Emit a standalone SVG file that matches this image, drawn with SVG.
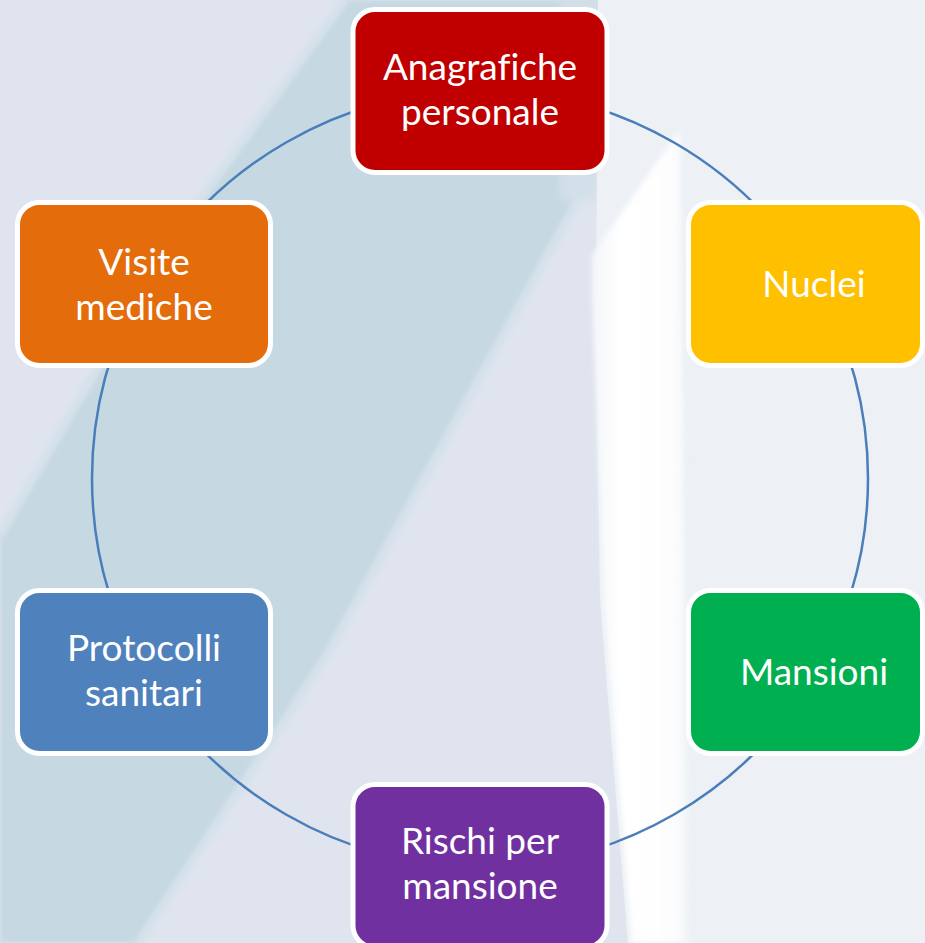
<svg xmlns="http://www.w3.org/2000/svg" width="925" height="943" viewBox="0 0 925 943">
<defs>
<style>
.box{stroke:#ffffff;stroke-width:5}
.lbl{font-family:Lato,"Open Sans","Liberation Sans",sans-serif;font-size:37px;fill:#ffffff;text-anchor:middle;font-variant-ligatures:none}
.arc{fill:none;stroke:#4a7ebb;stroke-width:2.5}
</style>
<filter id="blur8" x="-20%" y="-20%" width="140%" height="140%"><feGaussianBlur stdDeviation="4"/></filter>
<filter id="blur3" x="-20%" y="-20%" width="140%" height="140%"><feGaussianBlur stdDeviation="2.5"/></filter>
<linearGradient id="band" x1="0" y1="0" x2="1" y2="0">
<stop offset="0" stop-color="#f3f6f9"/>
<stop offset="0.3" stop-color="#ffffff"/>
<stop offset="0.85" stop-color="#fdfdfe"/>
<stop offset="1" stop-color="#f2f5f8"/>
</linearGradient>
</defs>
<g id="background">
<rect width="925" height="943" fill="#dfe4ee"/>
<path d="M345 0 L600 0 L600 160 L473 390 L330 650 L272 740 L138 943 L0 943 L0 535 L83 393 L200 200 Z" fill="#c6d8e2" filter="url(#blur3)"/>
<path d="M0 535 L83 393 L200 200 L345 0" fill="none" stroke="#d6e2eb" stroke-width="8" filter="url(#blur3)"/>
<path d="M600 160 L473 390 L330 650 L272 740 L138 943" fill="none" stroke="#d6e2eb" stroke-width="8" filter="url(#blur3)"/>
<rect x="560" y="0" width="40" height="200" fill="#d4e0e9" filter="url(#blur8)"/>
<path d="M598 0 L925 0 L925 943 L628 943 L600 600 L596 300 Z" fill="#edf1f6"/>
<path d="M680 130 L688 943 L632 943 L604 600 L592 300 L592 255 Z" fill="url(#band)" filter="url(#blur3)"/>
</g>
<g id="connectors">
<path class="arc" d="M480 90.5 A388 388 0 0 1 816.02 284.5"/>
<path class="arc" d="M816.02 284.5 A388 388 0 0 1 816.02 672.5"/>
<path class="arc" d="M816.02 672.5 A388 388 0 0 1 480 866.5"/>
<path class="arc" d="M480 866.5 A388 388 0 0 1 143.98 672.5"/>
<path class="arc" d="M143.98 672.5 A388 388 0 0 1 143.98 284.5"/>
<path class="arc" d="M143.98 284.5 A388 388 0 0 1 480 90.5"/>
</g>
<g id="anagrafiche">
<rect class="box" x="353" y="9.5" width="254" height="163" rx="22" fill="#c00000"/>
<text class="lbl" x="480" y="80">Anagrafiche</text>
<text class="lbl" x="480" y="125">personale</text>
</g>
<g id="nuclei">
<rect class="box" x="688.5" y="202.5" width="234" height="163" rx="22" fill="#ffc000"/>
<text class="lbl" x="814" y="297">Nuclei</text>
</g>
<g id="mansioni">
<rect class="box" x="688.5" y="590.5" width="234" height="163" rx="22" fill="#00b050"/>
<text class="lbl" x="814" y="685">Mansioni</text>
</g>
<g id="rischi">
<rect class="box" x="353" y="784.5" width="254" height="163" rx="22" fill="#7030a0"/>
<text class="lbl" x="480" y="854">Rischi per</text>
<text class="lbl" x="480" y="899">mansione</text>
</g>
<g id="protocolli">
<rect class="box" x="17.5" y="590.5" width="253" height="163" rx="22" fill="#4f81bd"/>
<text class="lbl" x="144" y="661">Protocolli</text>
<text class="lbl" x="144" y="706">sanitari</text>
</g>
<g id="visite">
<rect class="box" x="17.5" y="202.5" width="253" height="163" rx="22" fill="#e46c0a"/>
<text class="lbl" x="144" y="275">Visite</text>
<text class="lbl" x="144" y="320">mediche</text>
</g>
</svg>
